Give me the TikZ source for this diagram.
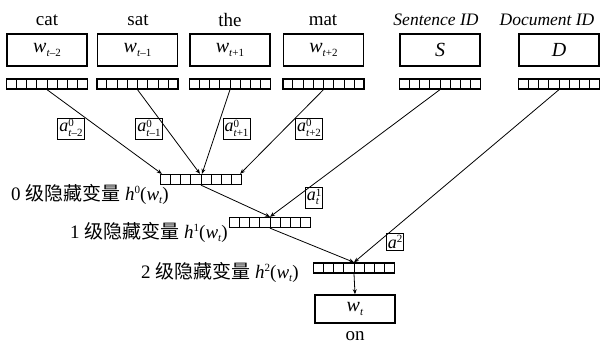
\documentclass[tikz,border=0pt]{standalone}
\usepackage{fontspec}
\setmainfont{Liberation Serif}
\newfontfamily\cjk{Noto Sans CJK SC}
\usetikzlibrary{calc,arrows.meta}
\newcommand\ssub[1]{\raisebox{-0.35ex}{\fontsize{11}{11}\selectfont #1}}
\newcommand\ssup[1]{\raisebox{0.75ex}{\fontsize{11}{11}\selectfont #1}}
\newcommand\supsub[2]{{\fontsize{11}{9}\selectfont\renewcommand\arraystretch{0.75}\begin{tabular}[c]{@{}l@{}}#1\\#2\end{tabular}}}
\newcommand\vecbar[3]{%
  \node[barbox] (#1) at (#2,#3) {};
  \foreach \k in {1,...,7}
    \draw[line width=0.8pt] ($(#1.south west)!\k/8!(#1.south east)$) -- ($(#1.north west)!\k/8!(#1.north east)$);}
\begin{document}
\begin{tikzpicture}[x=1pt,y=-1pt,
  wordbox/.style={draw,line width=1.6pt,minimum width=80pt,minimum height=32pt,inner sep=0pt,font=\fontsize{20}{20}\selectfont},
  barbox/.style={draw,line width=1.3pt,minimum width=81pt,minimum height=10pt,inner sep=0pt},
  toplabel/.style={font=\fontsize{19}{19}\selectfont,inner sep=0pt},
  idlabel/.style={font=\fontsize{17.5}{17.5}\selectfont\itshape,inner sep=0pt},
  wlabel/.style={draw,line width=0.8pt,inner sep=1.5pt,font=\fontsize{18}{18}\selectfont},
  hlabel/.style={inner sep=0pt,font=\fontsize{19}{19}\selectfont},
  conn/.style={line width=0.8pt,-{Stealth[length=5pt,width=4pt]}}]
\useasboundingbox (0,0) rectangle (603,345);
% top labels
\node[toplabel] (lcat) at (47,20) {cat};
\node[toplabel] (lsat) at (138,20) {sat};
\node[toplabel] (lthe) at (230,20) {the};
\node[toplabel] (lmat) at (323,20) {mat};
\node[idlabel] (lsid) at (436,20) {Sentence ID};
\node[idlabel] (ldid) at (547,20) {Document ID};
% word boxes
\node[wordbox] (w1) at (47,50) {\textit{w}\ssub{\textit{t}–2}};
\node[wordbox] (w2) at (137.5,50) {\textit{w}\ssub{\textit{t}–1}};
\node[wordbox] (w3) at (230,50) {\textit{w}\ssub{\textit{t}+1}};
\node[wordbox] (w4) at (323.5,50) {\textit{w}\ssub{\textit{t}+2}};
\node[wordbox] (ws) at (440,50) {\textit{S}};
\node[wordbox] (wd) at (559,50) {\textit{D}};
% bars
\vecbar{b1}{47}{84}
\vecbar{b2}{137.5}{84}
\vecbar{b3}{230}{84}
\vecbar{b4}{323.5}{84}
\vecbar{bs}{440}{84}
\vecbar{bd}{559}{84}
\vecbar{h0}{201}{179.5}
\vecbar{h1}{270}{222.5}
\vecbar{h2}{354}{268}
% output
\node[wordbox,minimum height=28pt] (out) at (355,309) {\textit{w}\ssub{\textit{t}}};
\node[toplabel] (lon) at (355,336) {on};
% weight labels
\node[wlabel] (a1) at (71,129) {\textit{a}\supsub{0}{\textit{t}–2}};
\node[wlabel] (a2) at (149,129) {\textit{a}\supsub{0}{\textit{t}–1}};
\node[wlabel] (a3) at (236.5,129) {\textit{a}\supsub{0}{\textit{t}+1}};
\node[wlabel] (a4) at (309,129) {\textit{a}\supsub{0}{\textit{t}+2}};
\node[wlabel] (a5) at (314,198) {\textit{a}\supsub{1}{\textit{t}}};
\node[wlabel] (a6) at (395,242) {\textit{a}\ssup{2}};
% level labels
\node[hlabel,anchor=west] (l0) at (11,194) {0 {\cjk 级隐藏变量} \textit{h}\ssup{0}(\textit{w}\ssub{\textit{t}})};
\node[hlabel,anchor=east] (l1) at (228,232) {1 {\cjk 级隐藏变量} \textit{h}\ssup{1}(\textit{w}\ssub{\textit{t}})};
\node[hlabel,anchor=east] (l2) at (299,272) {2 {\cjk 级隐藏变量} \textit{h}\ssup{2}(\textit{w}\ssub{\textit{t}})};
% connectors
\draw[conn] (b1.south) -- ($(h0.north west)+(2,0)$);
\draw[conn] (b2.south) -- ($(h0.north)+(-1,0)$);
\draw[conn] (b3.south) -- ($(h0.north)+(1,0)$);
\draw[conn] (b4.south) -- ($(h0.north east)+(-2,0)$);
\draw[conn] (h0.south) -- (h1.north);
\draw[conn] (bs.south) -- (h1.north);
\draw[conn] (h1.south) -- (h2.north);
\draw[conn] (bd.south) -- (h2.north);
\draw[conn] (h2.south) -- (out.north);
\end{tikzpicture}
\end{document}
